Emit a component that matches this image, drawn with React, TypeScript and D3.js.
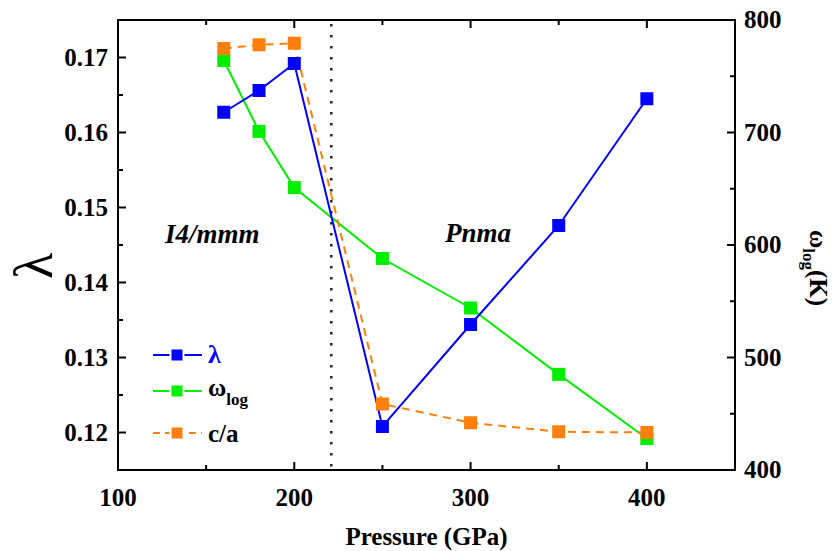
import React from "react";
import * as d3 from "d3";

const pressures = [160, 180, 200, 250, 300, 350, 400];
const lambdaValues = [0.1627, 0.1656, 0.1692, 0.1208, 0.1344, 0.1476, 0.1645];
const omegaLogValues = [764, 701, 651, 588, 544, 485, 428];
const caValues = [0.1712, 0.1717, 0.1719, 0.1238, 0.1213, 0.1201, 0.12];
const xTicks = [100, 200, 300, 400];
const xMinorTicks = [150, 250, 350];
const leftTicks = [0.12, 0.13, 0.14, 0.15, 0.16, 0.17];
const leftMinorTicks = [0.125, 0.135, 0.145, 0.155, 0.165];
const rightTicks = [400, 500, 600, 700, 800];
const rightMinorTicks = [450, 550, 650, 750];
const transitionPressure = 221;

const W = 832;
const H = 551;
const L = 118, R = 735, T = 20, B = 470;
const FONT = "Liberation Serif, DejaVu Serif, Times New Roman, serif";
const BLUE = "#0000ff";
const GREEN = "#00ee00";
const ORANGE = "#ff7f0e";

export default function App() {
  const x = d3.scaleLinear().domain([100, 450]).range([L, R]);
  const yL = d3.scaleLinear().domain([0.115, 0.175]).range([B, T]);
  const yR = d3.scaleLinear().domain([400, 800]).range([B, T]);

  const lamLine = d3.line<number>().x((_, i) => x(pressures[i])).y((d) => yL(d));
  const omLine = d3.line<number>().x((_, i) => x(pressures[i])).y((d) => yR(d));
  const caLine = d3.line<number>().x((_, i) => x(pressures[i])).y((d) => yL(d));

  const S = 13;
  const squares = (vals: number[], y: (v: number) => number, color: string) =>
    vals.map((v, i) => (
      <rect key={i} x={x(pressures[i]) - S / 2} y={y(v) - S / 2} width={S} height={S} fill={color} />
    ));

  const MAJ = 8, MIN = 5;
  const legendRows = [
    { y: 355, color: BLUE, dash: undefined as string | undefined },
    { y: 391, color: GREEN, dash: undefined },
    { y: 433, color: ORANGE, dash: "7,5" },
  ];

  return (
    <svg width={W} height={H} style={{ position: "absolute", left: 0, top: 0, background: "#fff", fontFamily: FONT }}>
      <rect x={0} y={0} width={W} height={H} fill="#fff" />
      {/* transition line */}
      <line x1={x(transitionPressure)} x2={x(transitionPressure)} y1={T + 4} y2={B} stroke="#222" strokeWidth={2.5} strokeDasharray="2.5,8.5" />

      {/* series */}
      <path d={omLine(omegaLogValues) || ""} fill="none" stroke={GREEN} strokeWidth={2} />
      <path d={caLine(caValues) || ""} fill="none" stroke={ORANGE} strokeWidth={2} strokeDasharray="8,6" />
      <path d={lamLine(lambdaValues) || ""} fill="none" stroke={BLUE} strokeWidth={2} />
      {squares(omegaLogValues, yR, GREEN)}
      {squares(caValues, yL, ORANGE)}
      {squares(lambdaValues, yL, BLUE)}

      {/* frame */}
      <rect x={L} y={T} width={R - L} height={B - T} fill="none" stroke="#000" strokeWidth={2} />

      {/* x ticks */}
      {xTicks.map((t) => (
        <g key={"x" + t}>
          <line x1={x(t)} x2={x(t)} y1={B} y2={B - MAJ} stroke="#000" strokeWidth={2} />
          <line x1={x(t)} x2={x(t)} y1={T} y2={T + MAJ} stroke="#000" strokeWidth={2} />
          <text x={x(t)} y={B + 36} textAnchor="middle" fontSize={25} fontWeight="bold" fontFamily={FONT}>{t}</text>
        </g>
      ))}
      {xMinorTicks.map((t) => (
        <g key={"xm" + t}>
          <line x1={x(t)} x2={x(t)} y1={B} y2={B - MIN} stroke="#000" strokeWidth={2} />
          <line x1={x(t)} x2={x(t)} y1={T} y2={T + MIN} stroke="#000" strokeWidth={2} />
        </g>
      ))}

      {/* left ticks */}
      {leftTicks.map((t) => (
        <g key={"l" + t}>
          <line x1={L} x2={L + MAJ} y1={yL(t)} y2={yL(t)} stroke="#000" strokeWidth={2} />
          <text x={L - 10} y={yL(t) + 8} textAnchor="end" fontSize={25} fontWeight="bold" fontFamily={FONT}>{t.toFixed(2)}</text>
        </g>
      ))}
      {leftMinorTicks.map((t) => (
        <line key={"lm" + t} x1={L} x2={L + MIN} y1={yL(t)} y2={yL(t)} stroke="#000" strokeWidth={2} />
      ))}

      {/* right ticks */}
      {rightTicks.map((t) => (
        <g key={"r" + t}>
          <line x1={R} x2={R - MAJ} y1={yR(t)} y2={yR(t)} stroke="#000" strokeWidth={2} />
          <text x={R + 9} y={yR(t) + 8} textAnchor="start" fontSize={25} fontWeight="bold" fontFamily={FONT}>{t}</text>
        </g>
      ))}
      {rightMinorTicks.map((t) => (
        <line key={"rm" + t} x1={R} x2={R - MIN} y1={yR(t)} y2={yR(t)} stroke="#000" strokeWidth={2} />
      ))}

      {/* axis titles */}
      <text x={(L + R) / 2} y={545} textAnchor="middle" fontSize={25} fontWeight="bold" fontFamily={FONT}>Pressure (GPa)</text>
      <text transform="translate(52,266) rotate(-90)" textAnchor="middle" fontSize={54} fontFamily={FONT}>λ</text>
      <text transform="translate(810,268) rotate(90)" textAnchor="middle" fontSize={25} fontWeight="bold" fontFamily={FONT}>
        ω<tspan fontSize={17} dy={7}>log</tspan><tspan dy={-7}>(K)</tspan>
      </text>

      {/* phase labels */}
      <text x={165} y={243} fontSize={27} fontWeight="bold" fontStyle="italic" fontFamily={FONT}>I4/mmm</text>
      <text x={445} y={242} fontSize={27} fontWeight="bold" fontStyle="italic" fontFamily={FONT}>Pnma</text>

      {/* legend */}
      {legendRows.map((r, i) => (
        <g key={"lg" + i}>
          <line x1={153} x2={202} y1={r.y} y2={r.y} stroke={r.color} strokeWidth={2} strokeDasharray={r.dash} />
          <rect x={177 - 6.5} y={r.y - 6.5} width={13} height={13} fill={r.color} stroke="#fff" strokeWidth={2} />
        </g>
      ))}
      <text x={208} y={363} fontSize={26} fontWeight="bold" fill={BLUE} fontFamily={FONT}>λ</text>
      <text x={208} y={396} fontSize={25} fontWeight="bold" fontFamily={FONT}>
        ω<tspan fontSize={17} dy={9}>log</tspan>
      </text>
      <text x={208} y={442} fontSize={25} fontWeight="bold" fontFamily={FONT}>c/a</text>
    </svg>
  );
}
